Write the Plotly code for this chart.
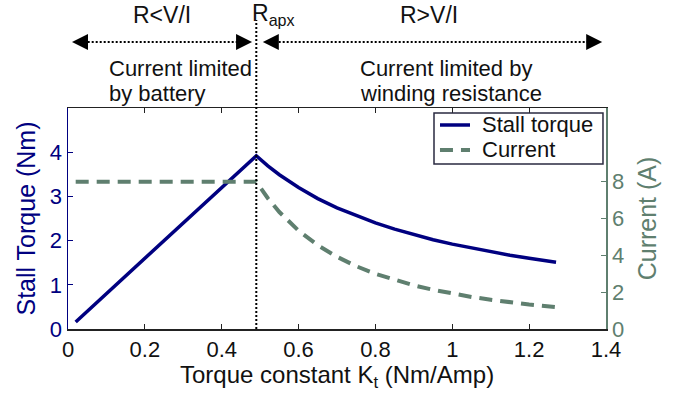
import plotly.graph_objects as go

# ---- data ----
kt = [0.02, 0.1, 0.2, 0.3, 0.4, 0.49, 0.52, 0.55, 0.6, 0.65, 0.7, 0.75, 0.8, 0.85,
      0.9, 0.95, 1.0, 1.05, 1.1, 1.15, 1.2, 1.27]
stall_torque = [0.16, 0.8, 1.6, 2.4, 3.2, 3.92, 3.69, 3.49, 3.2, 2.95, 2.74, 2.56, 2.4, 2.26,
                2.13, 2.02, 1.92, 1.83, 1.75, 1.67, 1.6, 1.51]
current = [8, 8, 8, 8, 8, 8, 7.1, 6.35, 5.34, 4.55, 3.92, 3.41, 3.0, 2.66,
           2.37, 2.13, 1.92, 1.74, 1.59, 1.45, 1.33, 1.19]
r_apx = 0.49
x_ticks = [0, 0.2, 0.4, 0.6, 0.8, 1, 1.2, 1.4]
x_tick_text = ["0", "0.2", "0.4", "0.6", "0.8", "1", "1.2", "1.4"]
y_ticks = [0, 1, 2, 3, 4]
y2_ticks = [0, 2, 4, 6, 8]
series_names = ["Stall torque", "Current"]

NAVY = "#000080"
GREEN = "#5f7f6f"
INK = "#111111"
FONT = "Liberation Sans, Arial, sans-serif"
DASH = "13px,8px"

fig = go.Figure()
fig.add_trace(go.Scatter(x=kt, y=stall_torque, name=series_names[0], mode="lines",
                         line=dict(color=NAVY, width=3.5), showlegend=False, hoverinfo="skip"))
fig.add_trace(go.Scatter(x=kt, y=current, name=series_names[1], mode="lines", yaxis="y2",
                         line=dict(color=GREEN, width=4, dash=DASH), showlegend=False,
                         hoverinfo="skip"))

# vertical dotted line at R_apx
fig.add_shape(type="line", xref="x", yref="paper", x0=r_apx, x1=r_apx, y0=0, y1=1.398,
              line=dict(color="black", width=2, dash="2px,2px"))

# dotted arrow shafts
arrow_y = 1.2986
fig.add_shape(type="line", xref="x", yref="paper", x0=0.02, x1=0.47, y0=arrow_y, y1=arrow_y,
              line=dict(color="black", width=2, dash="2px,2px"))
fig.add_shape(type="line", xref="x", yref="paper", x0=0.517, x1=1.38, y0=arrow_y, y1=arrow_y,
              line=dict(color="black", width=2, dash="2px,2px"))

def head(xtip, direction):
    fig.add_annotation(x=xtip, y=arrow_y, xref="x", yref="paper", axref="pixel", ayref="pixel",
                       ax=direction * 14, ay=0, text="", showarrow=True, arrowhead=2,
                       arrowsize=1.6, arrowwidth=2, arrowcolor="black")

head(0.0104, 1)
head(0.479, -1)
head(0.507, 1)
head(1.39, -1)

big = dict(family=FONT, size=23, color=INK)
fig.add_annotation(x=0.2446, y=1.421, xref="x", yref="paper", text="R&lt;V/I", showarrow=False,
                   font=big, xanchor="center", yanchor="middle")
fig.add_annotation(x=0.4736, y=1.421, xref="x", yref="paper", text="R<sub>apx</sub>", showarrow=False,
                   font=big, xanchor="left", yanchor="middle")
fig.add_annotation(x=0.939, y=1.421, xref="x", yref="paper", text="R&gt;V/I", showarrow=False,
                   font=big, xanchor="center", yanchor="middle")

txt = dict(family=FONT, size=22, color=INK)
for xx, yy, t in [(0.1015, (329 - 68) / 221, "Current limited"),
                  (0.1015, (329 - 93) / 221, "by battery"),
                  (0.7546, (329 - 68) / 221, "Current limited by"),
                  (0.7546, (329 - 93) / 221, "winding resistance")]:
    fig.add_annotation(x=xx, y=yy, xref="x", yref="paper", text=t, showarrow=False,
                       font=txt, xanchor="left", yanchor="middle")

# x-axis title placed as text under the axis
fig.add_annotation(x=0.5, y=(329 - 376) / 221, xref="paper", yref="paper",
                   text="Torque constant K<sub>t</sub> (Nm/Amp)", showarrow=False,
                   font=dict(family=FONT, size=24, color=INK), xanchor="center", yanchor="middle")

# hand-made legend (box, samples, labels)
fig.add_shape(type="rect", xref="paper", yref="paper", x0=0.6803, x1=0.9944, y0=0.7466, y1=0.9774,
              line=dict(color="#2a2a40", width=1.5), fillcolor="white", layer="above")
fig.add_shape(type="line", xref="paper", yref="paper", x0=0.6914, x1=0.7472, y0=0.9231, y1=0.9231,
              line=dict(color=NAVY, width=3.5), layer="above")
fig.add_shape(type="line", xref="paper", yref="paper", x0=0.6914, x1=0.7472, y0=0.8100, y1=0.8100,
              line=dict(color=GREEN, width=4, dash=DASH), layer="above")
for yy, t in [(0.9231, series_names[0]), (0.8100, series_names[1])]:
    fig.add_annotation(x=0.7658, y=yy, xref="paper", yref="paper", text=t, showarrow=False,
                       font=txt, xanchor="left", yanchor="middle")

fig.update_layout(
    template="none",
    width=681, height=405,
    margin=dict(l=68, r=75, t=108, b=76, pad=0),
    paper_bgcolor="white", plot_bgcolor="white",
    font=dict(family=FONT, size=22, color=INK),
    showlegend=False,
    hovermode=False,
    xaxis=dict(range=[0, 1.4], tickvals=x_ticks, ticktext=x_tick_text,
               showline=True, linecolor="#222222", linewidth=1.5, mirror="ticks",
               ticks="inside", ticklen=5, tickcolor="#222222", showgrid=False, zeroline=False,
               tickfont=dict(family=FONT, size=22, color=INK)),
    yaxis=dict(range=[0, 5], tickvals=y_ticks, showline=True, linecolor=NAVY, linewidth=1.5,
               ticks="inside", ticklen=5, tickcolor=NAVY, showgrid=False, zeroline=False,
               tickfont=dict(family=FONT, size=22, color=NAVY),
               title=dict(text="Stall Torque (Nm)", standoff=7,
                          font=dict(family=FONT, size=25, color=NAVY))),
    yaxis2=dict(range=[0, 12], tickvals=y2_ticks, overlaying="y", side="right",
                showline=True, linecolor=GREEN, linewidth=1.5,
                ticks="inside", ticklen=5, tickcolor=GREEN, showgrid=False, zeroline=False,
                tickfont=dict(family=FONT, size=22, color=GREEN),
                title=dict(text="Current (A)", standoff=15,
                           font=dict(family=FONT, size=25, color=GREEN))),
)

# remove the page's default body margin so the figure sits at the window's top-left corner
fig.write_html("out.html", config={"displayModeBar": False, "staticPlot": True},
               post_script="document.body.style.margin='0';document.body.style.overflow='hidden';")
